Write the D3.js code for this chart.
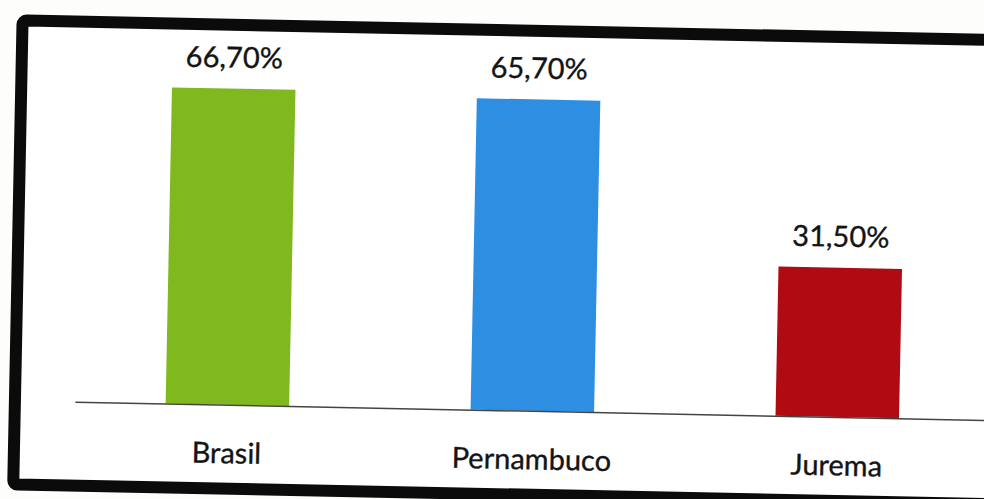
<!DOCTYPE html>
<html>
<head>
<meta charset="utf-8">
<script src="https://cdn.jsdelivr.net/npm/d3@7/dist/d3.min.js"></script>
<style>
  html, body { margin: 0; padding: 0; background: #fdfdfb; }
  svg { display: block; }
  text { font-family: Lato, "Open Sans", sans-serif; fill: #141414; }
</style>
</head>
<body>
<svg id="chart" width="984" height="499"></svg>
<script>
// Share of the population covered, by territory
const categories = ["Brasil", "Pernambuco", "Jurema"];
const values = [66.7, 65.7, 31.5];
const valueLabels = ["66,70%", "65,70%", "31,50%"];
const barColors = ["#80b91e", "#2e8fe2", "#b00a12"];

const svg = d3.select("#chart");

// The printed page sits slightly askew, so the whole panel is tilted.
const panel = svg.append("g").attr("transform", "rotate(1.15, 492, 252)");

// Heavy black frame around the panel
panel.append("rect")
  .attr("x", 18).attr("y", 30)
  .attr("width", 984).attr("height", 464)
  .attr("rx", 4)
  .attr("fill", "#ffffff")
  .attr("stroke", "#0b0b0b")
  .attr("stroke-width", 12);

const x = d3.scaleBand()
  .domain(categories)
  .range([78, 993])
  .paddingInner(0.595)
  .paddingOuter(0.2975);

const y = d3.scaleLinear()
  .domain([0, 80])
  .range([410, 410 - 4.74 * 80]);

// Bars
panel.selectAll("rect.bar")
  .data(categories)
  .join("rect")
  .attr("class", "bar")
  .attr("x", d => x(d))
  .attr("width", x.bandwidth())
  .attr("y", (d, i) => y(values[i]))
  .attr("height", (d, i) => y(0) - y(values[i]))
  .attr("fill", (d, i) => barColors[i]);

// Category axis along the baseline
const axis = panel.append("g")
  .attr("transform", `translate(0,${y(0)})`)
  .call(d3.axisBottom(x).tickSize(0).tickPadding(38));
axis.select(".domain").attr("stroke", "#444").attr("stroke-width", 1.5);
axis.selectAll(".tick text")
  .attr("font-family", "Lato, 'Open Sans', sans-serif")
  .attr("font-size", 29)
  .attr("fill", "#141414")
  .attr("stroke", "#141414")
  .attr("stroke-width", 0.35);

// Value labels above each bar
panel.selectAll("text.value")
  .data(categories)
  .join("text")
  .attr("class", "value")
  .attr("x", d => x(d) + x.bandwidth() / 2)
  .attr("y", (d, i) => y(values[i]) - 21)
  .attr("text-anchor", "middle")
  .attr("font-size", 29)
  .attr("stroke", "#141414")
  .attr("stroke-width", 0.35)
  .text((d, i) => valueLabels[i]);
</script>
</body>
</html>
